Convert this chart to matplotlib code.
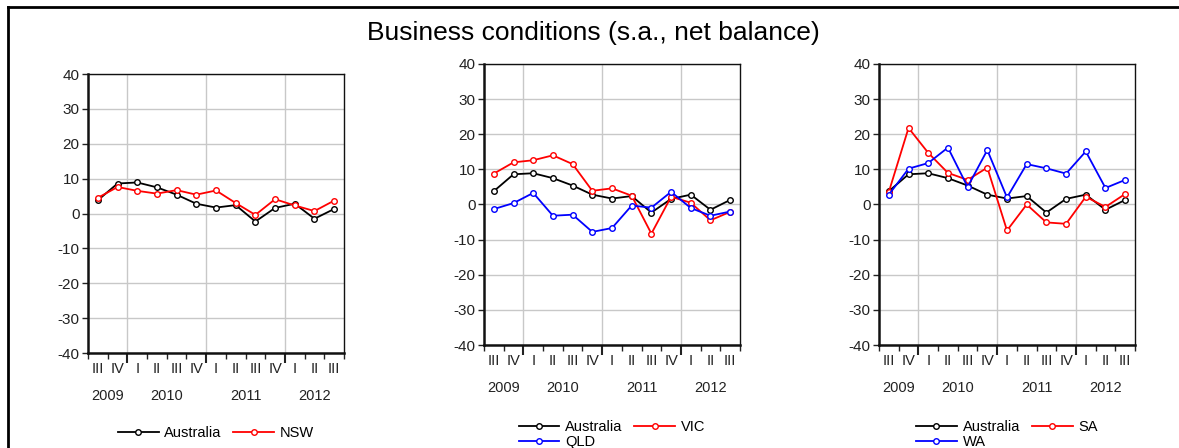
import numpy as np
import matplotlib
matplotlib.use("Agg")
import matplotlib.pyplot as plt
from matplotlib.lines import Line2D

plt.rcParams['font.family'] = ['Liberation Sans', 'DejaVu Sans']
plt.rcParams['axes.unicode_minus'] = False

# quarters 2009 Q3 .. 2012 Q3
quarters = ["III", "IV", "I", "II", "III", "IV", "I", "II", "III", "IV", "I", "II", "III"]
years = ["2009", "2010", "2011", "2012"]
year_pos = [0.5, 3.5, 7.5, 11.0]

australia = [3.8, 8.6, 8.9, 7.5, 5.4, 2.8, 1.7, 2.4, -2.3, 1.6, 2.8, -1.5, 1.3]
nsw = [4.5, 7.6, 6.5, 5.7, 6.7, 5.4, 6.6, 3.0, -0.4, 4.1, 2.3, 0.7, 3.7]
vic = [8.8, 12.0, 12.6, 14.0, 11.5, 3.9, 4.6, 2.5, -8.3, 2.2, 0.5, -4.5, -2.1]
qld = [-1.3, 0.4, 3.3, -3.2, -2.9, -7.8, -6.7, -0.3, -0.9, 3.6, -1.0, -3.2, -2.0]
sa = [3.6, 21.8, 14.7, 9.0, 7.0, 10.5, -7.4, 0.0, -5.1, -5.5, 2.2, -0.7, 3.0]
wa = [2.8, 10.2, 11.8, 16.2, 5.0, 15.5, 2.0, 11.5, 10.3, 8.8, 15.1, 4.7, 7.0]

W, H = 1179, 448
fig = plt.figure(figsize=(W / 100, H / 100), dpi=100)


def px_axes(left, right, top, bottom):
    return fig.add_axes([left / W, 1 - bottom / H, (right - left) / W, (bottom - top) / H])


def series_plot(ax, y, color, label):
    x = np.arange(len(y))
    ax.plot(x, y, color=color, lw=1.3, marker='o', ms=4, mfc='white',
            mec=color, mew=1.0, label=label)


def style_axes(ax):
    n = len(quarters)
    ax.set_xlim(-0.5, n - 0.5)
    ax.set_ylim(-40, 40)
    ax.set_yticks(np.arange(-40, 41, 10))
    ax.tick_params(axis='y', labelsize=11, length=4, width=1, colors='#222222', pad=2)
    ax.set_xticks([1.5, 5.5, 9.5])
    ax.set_xticks(np.arange(-0.5, n, 1.0), minor=True)
    ax.set_xticklabels([])
    ax.tick_params(axis='x', which='major', length=7, width=1.5, color='#222222')
    ax.tick_params(axis='x', which='minor', length=4, width=1, color='#222222')
    ax.grid(True, which='major', color='#c8c8c8', lw=1)
    ax.set_axisbelow(True)
    for s in ['left', 'bottom']:
        ax.spines[s].set_linewidth(1.8)
        ax.spines[s].set_color('#111111')
    for s in ['top', 'right']:
        ax.spines[s].set_linewidth(1.0)
        ax.spines[s].set_color('#111111')
    for i, q in enumerate(quarters):
        ax.annotate(q, xy=(i, 0), xycoords=('data', 'axes fraction'),
                    xytext=(0, -11.5), textcoords='offset points',
                    ha='center', va='center', fontsize=10.5, color='#222222')
    for yp, yr in zip(year_pos, years):
        ax.annotate(yr, xy=(yp, 0), xycoords=('data', 'axes fraction'),
                    xytext=(0, -31), textcoords='offset points',
                    ha='center', va='center', fontsize=10.5, color='#222222')


# panel 1
ax1 = px_axes(88, 344, 74, 353)
series_plot(ax1, australia, 'black', 'Australia')
series_plot(ax1, nsw, 'red', 'NSW')
style_axes(ax1)
ax1.legend(loc='center', bbox_to_anchor=(0.5, -0.287), ncol=2, frameon=False,
           fontsize=10.5, handlelength=2.8, handletextpad=0.4, columnspacing=0.8)

# panel 2
ax2 = px_axes(484, 740, 64, 345)
series_plot(ax2, australia, 'black', 'Australia')
series_plot(ax2, vic, 'red', 'VIC')
series_plot(ax2, qld, 'blue', 'QLD')
style_axes(ax2)
h, l = ax2.get_legend_handles_labels()
order = [0, 2, 1]
ax2.legend([h[i] for i in order], [l[i] for i in order], loc='center',
           bbox_to_anchor=(0.5, -0.319), ncol=2, frameon=False, fontsize=10.5,
           handlelength=2.8, handletextpad=0.4, columnspacing=0.8, labelspacing=0.05)

# panel 3
ax3 = px_axes(879, 1135, 64, 345)
series_plot(ax3, australia, 'black', 'Australia')
series_plot(ax3, sa, 'red', 'SA')
series_plot(ax3, wa, 'blue', 'WA')
style_axes(ax3)
h, l = ax3.get_legend_handles_labels()
ax3.legend([h[i] for i in order], [l[i] for i in order], loc='center',
           bbox_to_anchor=(0.5, -0.319), ncol=2, frameon=False, fontsize=10.5,
           handlelength=2.8, handletextpad=0.4, columnspacing=0.8, labelspacing=0.05)

fig.text(593 / W, 1 - 33 / H, "Business conditions (s.a., net balance)",
         ha='center', va='center', fontsize=19)

# outer frame (cut off at right and bottom)
fig.add_artist(Line2D([8 / W, 1.0], [1 - 7 / H, 1 - 7 / H], color='black', lw=2))
fig.add_artist(Line2D([8 / W, 8 / W], [1 - 7 / H, 0.0], color='black', lw=2))

fig.savefig("out.png", dpi=100)
